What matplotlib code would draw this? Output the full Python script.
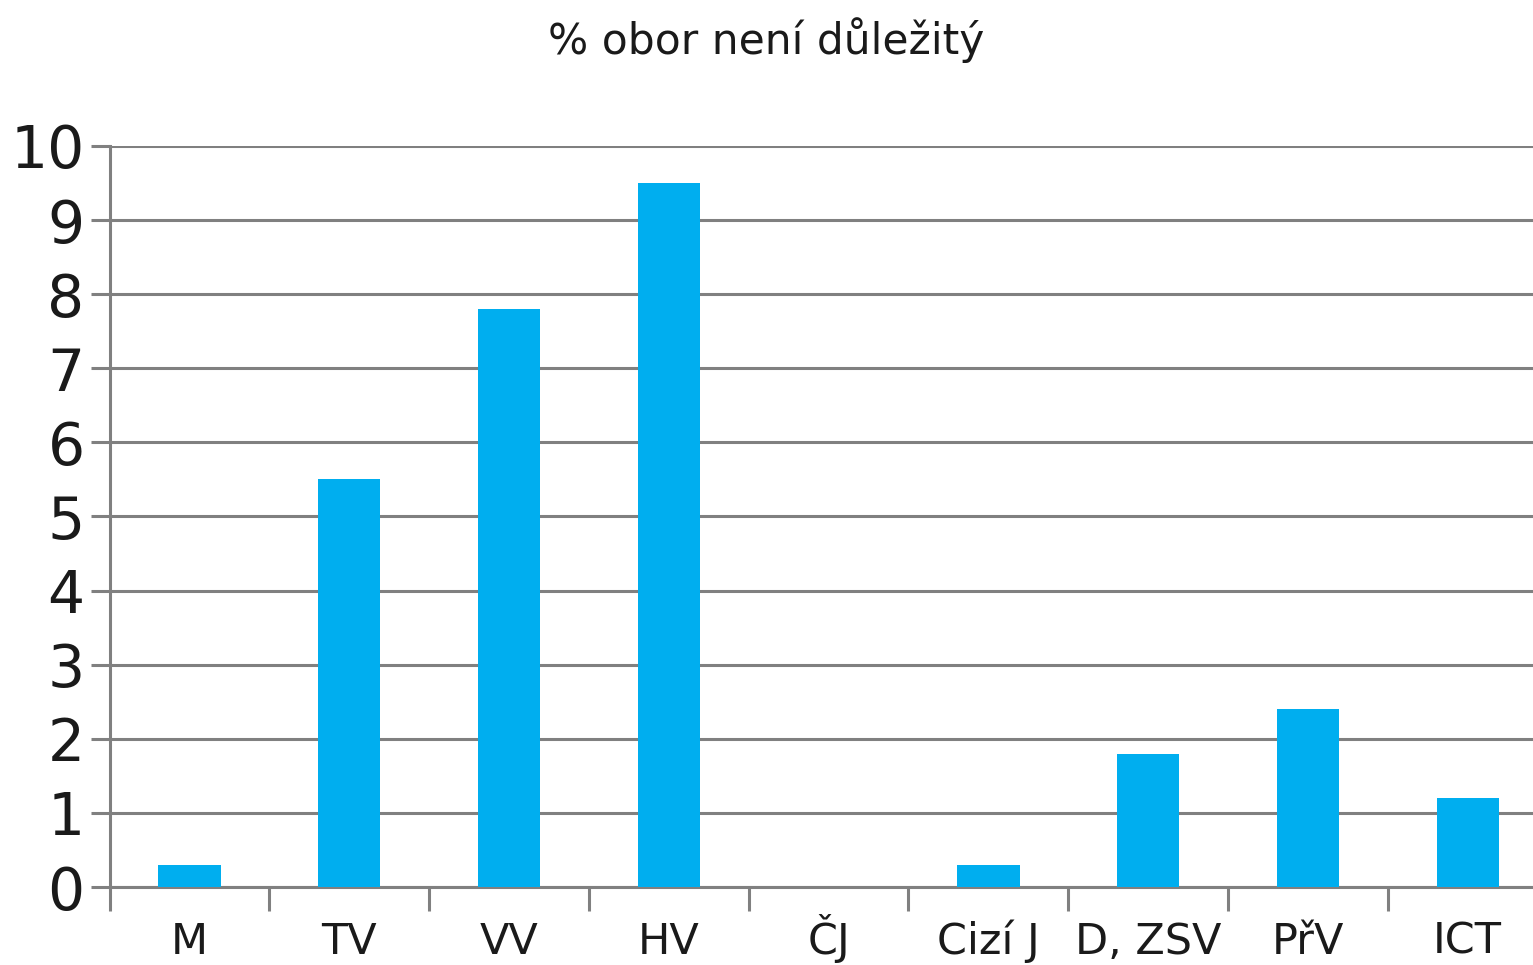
import numpy as np
import matplotlib.pyplot as plt

categories = ['M', 'TV', 'VV', 'HV', 'ČJ', 'Cizí J', 'D, ZSV', 'PřV', 'ICT']
values = [0.3, 5.5, 7.8, 9.5, 0.0, 0.3, 1.8, 2.4, 1.2]
yticks = list(range(0, 11))

bar_color = '#00AEEF'
grid_color = '#808080'

plt.rcParams['font.family'] = ['DejaVu Sans']

fig = plt.figure(figsize=(15.33, 9.65), dpi=100)
ax = fig.add_axes([0.0715, 0.0808, 0.938, 0.768])

x = np.arange(len(categories))
ax.bar(x, values, width=0.39, color=bar_color, zorder=3)

ax.set_xlim(-0.5, len(categories) - 0.5)
ax.set_ylim(0, 10)

# gridlines
ax.set_yticks(yticks)
ax.set_yticklabels([str(t) for t in yticks], fontsize=42, color='#1a1a1a')
ax.yaxis.grid(True, color=grid_color, linewidth=2.2, zorder=1)
ax.tick_params(axis='y', length=14, width=2.2, color=grid_color, pad=4)

# category boundaries as major ticks, labels on minor ticks
ax.set_xticks(np.arange(-0.5, len(categories), 1.0))
ax.set_xticklabels([])
ax.tick_params(axis='x', which='major', length=17, width=2.2, color=grid_color)
ax.set_xticks(x, minor=True)
ax.set_xticklabels(categories, minor=True, fontsize=31, color='#1a1a1a')
ax.tick_params(axis='x', which='minor', length=0, pad=48)
for lbl in ax.get_xticklabels(minor=True):
    lbl.set_verticalalignment('baseline')

for s in ['top', 'right']:
    ax.spines[s].set_visible(False)
for s in ['left', 'bottom']:
    ax.spines[s].set_color(grid_color)
    ax.spines[s].set_linewidth(2.2)

fig.text(0.5, 0.958, '% obor není důležitý', ha='center', va='center', fontsize=30.5, color='#1a1a1a')

fig.savefig('out.png', dpi=100)
